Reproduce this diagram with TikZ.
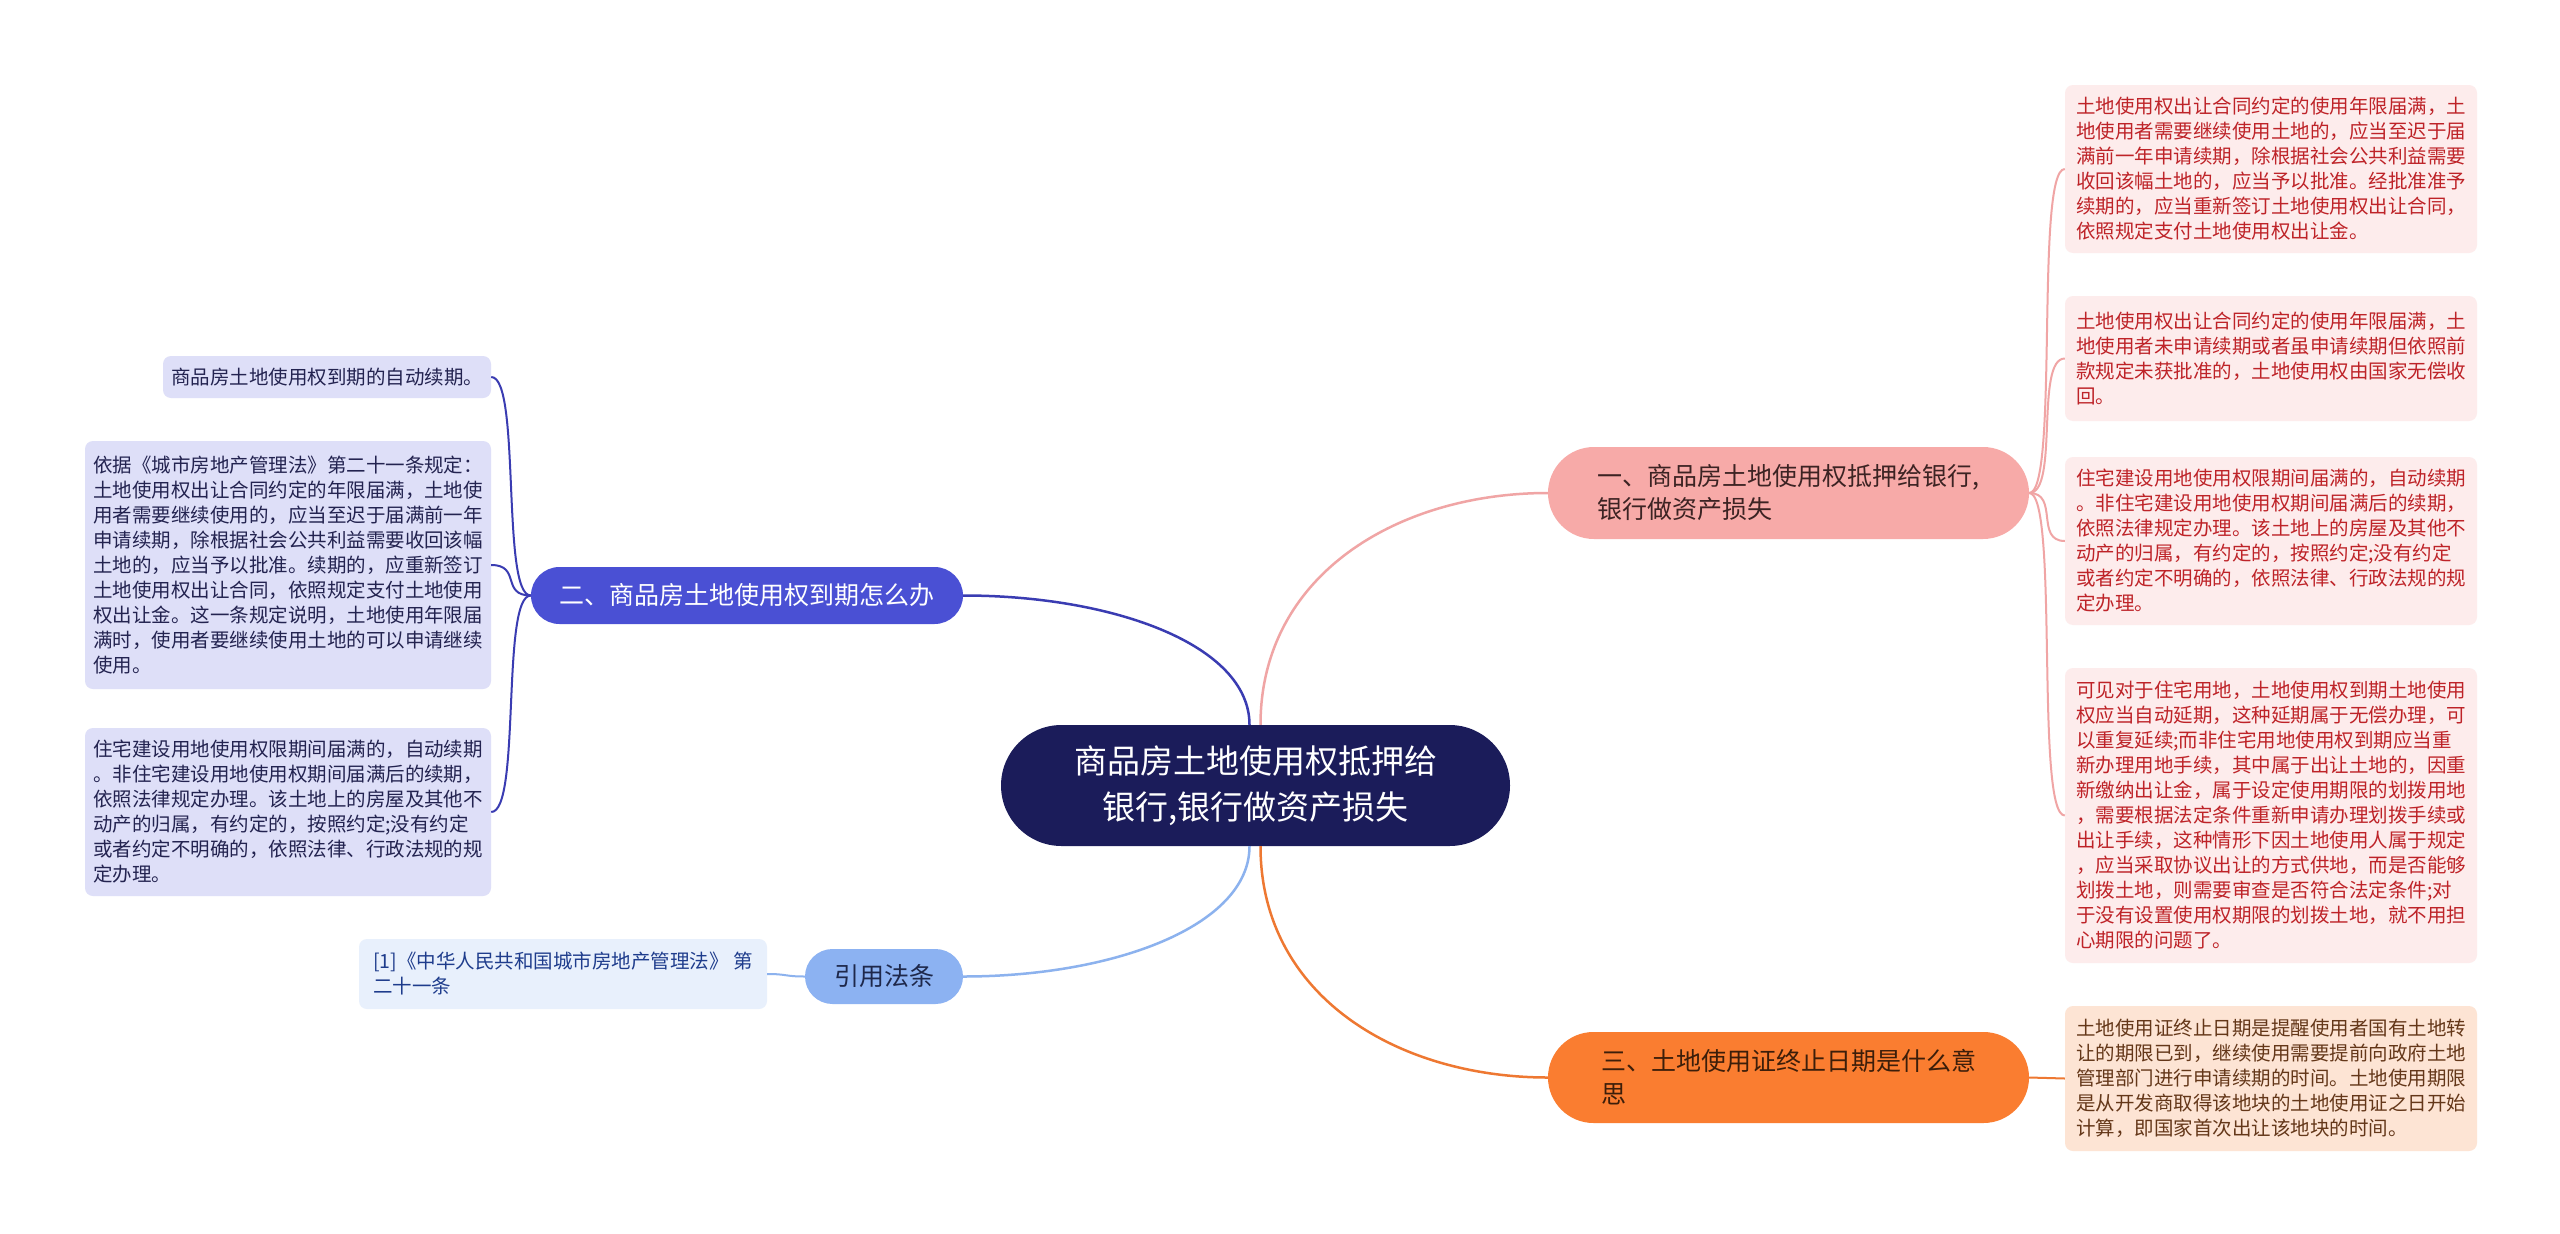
\documentclass[tikz,border=0pt]{standalone}
\usepackage{fontspec}
\setmainfont{Noto Sans CJK SC}
\usetikzlibrary{shapes.misc}
\definecolor{cnavy}{RGB}{27,28,90}
\definecolor{bonefill}{RGB}{247,170,168}
\definecolor{bonetext}{RGB}{60,35,35}
\definecolor{pinkline}{RGB}{240,165,165}
\definecolor{btwofill}{RGB}{74,80,212}
\definecolor{blueline}{RGB}{58,60,178}
\definecolor{bthreefill}{RGB}{140,178,242}
\definecolor{bthreetext}{RGB}{30,40,75}
\definecolor{lbline}{RGB}{140,178,238}
\definecolor{bfourfill}{RGB}{250,125,48}
\definecolor{bfourtext}{RGB}{60,30,10}
\definecolor{orline}{RGB}{238,120,50}
\definecolor{lfill}{RGB}{222,223,248}
\definecolor{ltext}{RGB}{35,35,80}
\definecolor{lfourfill}{RGB}{232,240,252}
\definecolor{lfourtext}{RGB}{30,60,140}
\definecolor{rfill}{RGB}{253,236,236}
\definecolor{rtext}{RGB}{190,35,40}
\definecolor{rfivefill}{RGB}{253,228,212}
\definecolor{rfivetext}{RGB}{100,55,25}
\begin{document}
\begin{tikzpicture}[x=1pt,y=-1pt,
  capsule/.style={rounded rectangle, inner sep=0pt, align=left},
  rootbox/.style={capsule, fill=cnavy, text=white, align=center,
    minimum width=509pt, minimum height=121pt, font=\fontsize{33}{46}\selectfont},
  branchbox/.style={capsule, font=\fontsize{25}{33}\selectfont},
  leafbox/.style={rectangle, rounded corners=8pt, inner sep=0pt, align=left,
    font=\fontsize{19.5}{25}\selectfont},
  mainline/.style={line width=2.5pt},
  leafline/.style={line width=2pt}
]
\useasboundingbox[fill=white] (0,0) rectangle (2560,1234);

% root
\node[rootbox] (c) at (1255.5,785.5) {商品房土地使用权抵押给\\银行,银行做资产损失};

% branches
\node[branchbox, fill=bonefill, text=bonetext, minimum width=481pt, minimum height=92pt]
  (b1) at (1788.5,493) {一、商品房土地使用权抵押给银行,\\银行做资产损失};
\node[branchbox, fill=btwofill, text=white, minimum width=432pt, minimum height=57pt]
  (b2) at (747,595.5) {二、商品房土地使用权到期怎么办};
\node[branchbox, fill=bthreefill, text=bthreetext, minimum width=158pt, minimum height=55pt]
  (b3) at (884,976.5) {引用法条};
\node[branchbox, fill=bfourfill, text=bfourtext, minimum width=481pt, minimum height=91pt]
  (b4) at (1788.5,1077.5) {三、土地使用证终止日期是什么意\\思};

% left leaves
\node[leafbox, fill=lfill, text=ltext, minimum width=328pt, minimum height=42pt]
  (l1) at (327,377) {商品房土地使用权到期的自动续期。};
\node[leafbox, fill=lfill, text=ltext, minimum width=406pt, minimum height=248pt]
  (l2) at (288,565) {依据《城市房地产管理法》第二十一条规定：\\
土地使用权出让合同约定的年限届满，土地使\\
用者需要继续使用的，应当至迟于届满前一年\\
申请续期，除根据社会公共利益需要收回该幅\\
土地的，应当予以批准。续期的，应重新签订\\
土地使用权出让合同，依照规定支付土地使用\\
权出让金。这一条规定说明，土地使用年限届\\
满时，使用者要继续使用土地的可以申请继续\\
使用。};
\node[leafbox, fill=lfill, text=ltext, minimum width=406pt, minimum height=168pt]
  (l3) at (288,812) {住宅建设用地使用权限期间届满的，自动续期\\
。非住宅建设用地使用权期间届满后的续期，\\
依照法律规定办理。该土地上的房屋及其他不\\
动产的归属，有约定的，按照约定;没有约定\\
或者约定不明确的，依照法律、行政法规的规\\
定办理。};
\node[leafbox, fill=lfourfill, text=lfourtext, minimum width=408pt, minimum height=70pt]
  (l4) at (563,974) {[1]《中华人民共和国城市房地产管理法》 第\\
二十一条};

% right leaves
\node[leafbox, fill=rfill, text=rtext, minimum width=412pt, minimum height=168pt]
  (r1) at (2271,169) {土地使用权出让合同约定的使用年限届满，土\\
地使用者需要继续使用土地的，应当至迟于届\\
满前一年申请续期，除根据社会公共利益需要\\
收回该幅土地的，应当予以批准。经批准准予\\
续期的，应当重新签订土地使用权出让合同，\\
依照规定支付土地使用权出让金。};
\node[leafbox, fill=rfill, text=rtext, minimum width=412pt, minimum height=125pt]
  (r2) at (2271,358.5) {土地使用权出让合同约定的使用年限届满，土\\
地使用者未申请续期或者虽申请续期但依照前\\
款规定未获批准的，土地使用权由国家无偿收\\
回。};
\node[leafbox, fill=rfill, text=rtext, minimum width=412pt, minimum height=168pt]
  (r3) at (2271,541) {住宅建设用地使用权限期间届满的，自动续期\\
。非住宅建设用地使用权期间届满后的续期，\\
依照法律规定办理。该土地上的房屋及其他不\\
动产的归属，有约定的，按照约定;没有约定\\
或者约定不明确的，依照法律、行政法规的规\\
定办理。};
\node[leafbox, fill=rfill, text=rtext, minimum width=412pt, minimum height=295pt]
  (r4) at (2271,815.5) {可见对于住宅用地，土地使用权到期土地使用\\
权应当自动延期，这种延期属于无偿办理，可\\
以重复延续;而非住宅用地使用权到期应当重\\
新办理用地手续，其中属于出让土地的，因重\\
新缴纳出让金，属于设定使用期限的划拨用地\\
，需要根据法定条件重新申请办理划拨手续或\\
出让手续，这种情形下因土地使用人属于规定\\
，应当采取协议出让的方式供地，而是否能够\\
划拨土地，则需要审查是否符合法定条件;对\\
于没有设置使用权期限的划拨土地，就不用担\\
心期限的问题了。};
\node[leafbox, fill=rfivefill, text=rfivetext, minimum width=412pt, minimum height=145pt]
  (r5) at (2271,1078.5) {土地使用证终止日期是提醒使用者国有土地转\\
让的期限已到，继续使用需要提前向政府土地\\
管理部门进行申请续期的时间。土地使用期限\\
是从开发商取得该地块的土地使用证之日开始\\
计算，即国家首次出让该地块的时间。};

% root connectors
\draw[mainline, pinkline] ([xshift=5pt]c.north) .. controls +(0,-150) and +(-150,0) .. (b1.west);
\draw[mainline, blueline] ([xshift=-6pt]c.north) .. controls +(0,-80) and +(150,0) .. (b2.east);
\draw[mainline, lbline] ([xshift=-6pt]c.south) .. controls +(0,80) and +(150,0) .. (b3.east);
\draw[mainline, orline] ([xshift=5pt]c.south) .. controls +(0,150) and +(-150,0) .. (b4.west);

% leaf connectors
\foreach \n in {l1,l2,l3}
  \draw[leafline, blueline] (b2.west) .. controls +(-30,0) and +(30,0) .. (\n.east);
\draw[leafline, lbline] (b3.west) .. controls +(-20,0) and +(20,0) .. (l4.east);
\foreach \n in {r1,r2,r3,r4}
  \draw[leafline, pinkline] (b1.east) .. controls +(30,0) and +(-30,0) .. (\n.west);
\draw[leafline, orline] (b4.east) .. controls +(18,0) and +(-18,0) .. (r5.west);
\end{tikzpicture}
\end{document}
